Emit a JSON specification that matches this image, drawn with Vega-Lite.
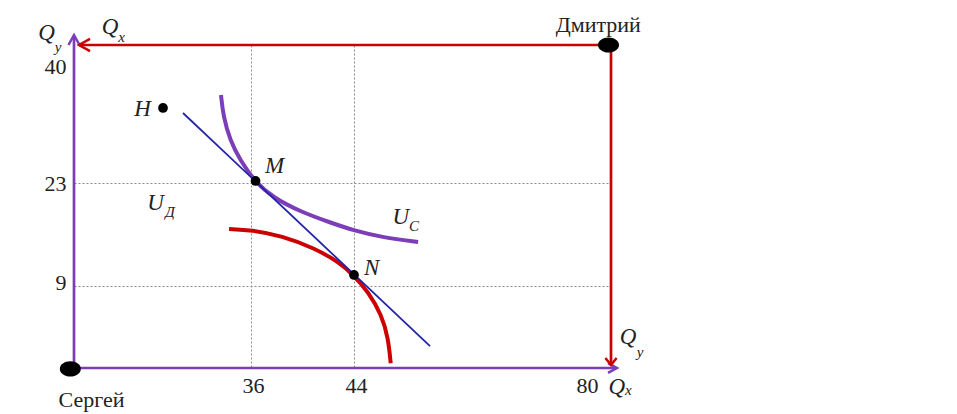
{
  "$schema": "https://vega.github.io/schema/vega-lite/v6.json",
  "width": 537,
  "height": 323,
  "autosize": "none",
  "padding": {"left": 74, "top": 45, "right": 346, "bottom": 46},
  "background": "white",
  "config": {"view": {"stroke": null}, "font": "Liberation Serif"},
  "datasets": {
    "segs": [
      {"who": "Сергей", "x": 0, "y": 0, "x2": 0, "y2": 41.1},
      {"who": "Сергей", "x": 0, "y": 0, "x2": 80.75, "y2": 0},
      {"who": "Дмитрий", "x": 80, "y": 40, "x2": 1.1, "y2": 40},
      {"who": "Дмитрий", "x": 80, "y": 40, "x2": 80, "y2": 0.4}
    ],
    "arrows": [
      {"who": "Сергей", "dir": "up", "x": 0, "y": 41.23},
      {"who": "Сергей", "dir": "right", "x": 80.84, "y": 0},
      {"who": "Дмитрий", "dir": "left", "x": 1.02, "y": 40},
      {"who": "Дмитрий", "dir": "down", "x": 80, "y": 0.33}
    ],
    "curves": [
      {"who": "Сергей", "x": 29.90, "y": 33.84},
      {"who": "Сергей", "x": 30.37, "y": 31.17},
      {"who": "Сергей", "x": 31.73, "y": 28.30},
      {"who": "Сергей", "x": 33.76, "y": 25.83},
      {"who": "Сергей", "x": 36.31, "y": 23.15},
      {"who": "Сергей", "x": 37.71, "y": 21.03},
      {"who": "Сергей", "x": 39.81, "y": 19.13},
      {"who": "Сергей", "x": 42.14, "y": 17.63},
      {"who": "Сергей", "x": 44.00, "y": 16.54},
      {"who": "Сергей", "x": 48.06, "y": 15.59},
      {"who": "Сергей", "x": 52.98, "y": 14.98},
      {"who": "Дмитрий", "x": 31.53, "y": 16.75},
      {"who": "Дмитрий", "x": 36.05, "y": 16.61},
      {"who": "Дмитрий", "x": 38.38, "y": 15.84},
      {"who": "Дмитрий", "x": 40.97, "y": 14.12},
      {"who": "Дмитрий", "x": 42.78, "y": 12.30},
      {"who": "Дмитрий", "x": 43.95, "y": 10.50},
      {"who": "Дмитрий", "x": 46.00, "y": 8.37},
      {"who": "Дмитрий", "x": 47.88, "y": 5.82},
      {"who": "Дмитрий", "x": 48.80, "y": 3.26},
      {"who": "Дмитрий", "x": 49.14, "y": 0.52}
    ],
    "budget": [
      {"x": 22.17, "y": 31.62},
      {"x": 54.65, "y": 2.41}
    ],
    "dots": [
      {"name": "H", "x": 18.10, "y": 32.24},
      {"name": "M", "x": 36.35, "y": 23.25},
      {"name": "N", "x": 44.0, "y": 10.5}
    ],
    "owners": [
      {"who": "Сергей", "x": -0.75, "y": -0.1},
      {"who": "Дмитрий", "x": 79.65, "y": 40}
    ],
    "letters": [
      {"t": "H", "x": 13.93, "y": 32.12},
      {"t": "M", "x": 37.84, "y": 25.12},
      {"t": "N", "x": 46.48, "y": 11.41},
      {"t": "U", "x": 16.58, "y": 20.24},
      {"t": "U", "x": 50.56, "y": 18.42},
      {"t": "Q", "x": -5.59, "y": 41.48},
      {"t": "Q", "x": 7.32, "y": 42.22},
      {"t": "Q", "x": 82.38, "y": 3.40},
      {"t": "Q", "x": 80.80, "y": -2.05}
    ],
    "subs": [
      {"t": "y", "x": -3.25, "y": 39.75},
      {"t": "x", "x": 9.70, "y": 41.02},
      {"t": "y", "x": 84.06, "y": 1.79},
      {"t": "x", "x": 82.43, "y": -2.41},
      {"t": "Д", "x": 19.53, "y": 19.10},
      {"t": "С", "x": 52.40, "y": 17.18}
    ],
    "names": [
      {"t": "Дмитрий", "x": 78.22, "y": 42.41},
      {"t": "Сергей", "x": 3.56, "y": -3.56}
    ]
  },
  "encoding": {
    "x": {
      "field": "x",
      "type": "quantitative",
      "scale": {"type": "linear", "domain": [0, 36, 44, 80], "range": [0, 177, 280, 537], "zero": false, "nice": false},
      "axis": {
        "values": [36, 44, 80],
        "title": null,
        "domain": false,
        "ticks": false,
        "tickSize": 0,
        "grid": true,
        "gridColor": "#8a8a8a",
        "gridDash": [2, 2],
        "gridWidth": 1,
        "gridOpacity": {"condition": {"test": "datum.value == 80", "value": 0}, "value": 1},
        "labelFont": "Liberation Serif",
        "labelFontSize": 22,
        "labelColor": "#222222",
        "labelPadding": 7,
        "labelFlush": false,
        "labelOverlap": false,
        "labelOffset": {"condition": {"test": "datum.value == 80", "value": -24}, "value": 2}
      }
    },
    "y": {
      "field": "y",
      "type": "quantitative",
      "scale": {"type": "linear", "domain": [0, 9, 23, 40], "range": [323, 241, 138, 0], "zero": false, "nice": false},
      "axis": {
        "values": [9, 23, 40],
        "title": null,
        "domain": false,
        "ticks": false,
        "tickSize": 0,
        "grid": true,
        "gridColor": "#8a8a8a",
        "gridDash": [2, 2],
        "gridWidth": 1,
        "gridOpacity": {"condition": {"test": "datum.value == 40", "value": 0}, "value": 1},
        "labelFont": "Liberation Serif",
        "labelFontSize": 22,
        "labelColor": "#222222",
        "labelPadding": 8,
        "labelFlush": false,
        "labelOverlap": false,
        "labelOffset": {"condition": [{"test": "datum.value == 40", "value": 21}, {"test": "datum.value == 9", "value": -4}], "value": 0}
      }
    }
  },
  "layer": [
    {
      "data": {"name": "segs"},
      "mark": {"type": "rule", "strokeWidth": 2.7},
      "encoding": {
        "x2": {"field": "x2"},
        "y2": {"field": "y2"},
        "color": {"field": "who", "type": "nominal", "scale": {"domain": ["Сергей", "Дмитрий"], "range": ["#7B3DB8", "#CC0000"]}, "legend": null}
      }
    },
    {
      "data": {"name": "arrows"},
      "transform": [{"filter": "datum.dir == 'up'"}],
      "mark": {"type": "point", "shape": "M -1 -0.55 L 0 0 L -1 0.55", "angle": 270, "size": 400, "filled": false, "strokeWidth": 2.5, "opacity": 1},
      "encoding": {"color": {"field": "who", "type": "nominal", "legend": null}}
    },
    {
      "data": {"name": "arrows"},
      "transform": [{"filter": "datum.dir == 'right'"}],
      "mark": {"type": "point", "shape": "M -1 -0.55 L 0 0 L -1 0.55", "angle": 0, "size": 324, "filled": false, "strokeWidth": 2.5, "opacity": 1},
      "encoding": {"color": {"field": "who", "type": "nominal", "legend": null}}
    },
    {
      "data": {"name": "arrows"},
      "transform": [{"filter": "datum.dir == 'left'"}],
      "mark": {"type": "point", "shape": "M -1 -0.55 L 0 0 L -1 0.55", "angle": 180, "size": 484, "filled": false, "strokeWidth": 2.5, "opacity": 1},
      "encoding": {"color": {"field": "who", "type": "nominal", "legend": null}}
    },
    {
      "data": {"name": "arrows"},
      "transform": [{"filter": "datum.dir == 'down'"}],
      "mark": {"type": "point", "shape": "M -1 -0.8 L 0 0 L -1 0.8", "angle": 90, "size": 196, "filled": false, "strokeWidth": 2.5, "opacity": 1},
      "encoding": {"color": {"field": "who", "type": "nominal", "legend": null}}
    },
    {
      "data": {"name": "curves"},
      "mark": {"type": "line", "interpolate": "basis", "strokeWidth": 4, "strokeCap": "butt"},
      "encoding": {"color": {"field": "who", "type": "nominal", "legend": null}}
    },
    {
      "data": {"name": "budget"},
      "mark": {"type": "line", "color": "#2424A8", "strokeWidth": 1.8}
    },
    {
      "data": {"name": "dots"},
      "mark": {"type": "circle", "color": "black", "size": 95, "opacity": 1}
    },
    {
      "data": {"name": "owners"},
      "mark": {"type": "point", "shape": "M -1 0 A 1 0.72 0 1 0 1 0 A 1 0.72 0 1 0 -1 0 Z", "size": 441, "filled": true, "color": "black", "opacity": 1}
    },
    {
      "data": {"name": "letters"},
      "mark": {"type": "text", "font": "Liberation Serif", "fontStyle": "italic", "fontSize": 23, "color": "#222222", "align": "center", "baseline": "middle"},
      "encoding": {"text": {"field": "t"}}
    },
    {
      "data": {"name": "subs"},
      "mark": {"type": "text", "font": "Liberation Serif", "fontStyle": "italic", "fontSize": 15, "color": "#222222", "align": "center", "baseline": "middle"},
      "encoding": {"text": {"field": "t"}}
    },
    {
      "data": {"name": "names"},
      "mark": {"type": "text", "font": "Liberation Serif", "fontSize": 22, "color": "#222222", "align": "center", "baseline": "middle"},
      "encoding": {"text": {"field": "t"}}
    }
  ]
}
